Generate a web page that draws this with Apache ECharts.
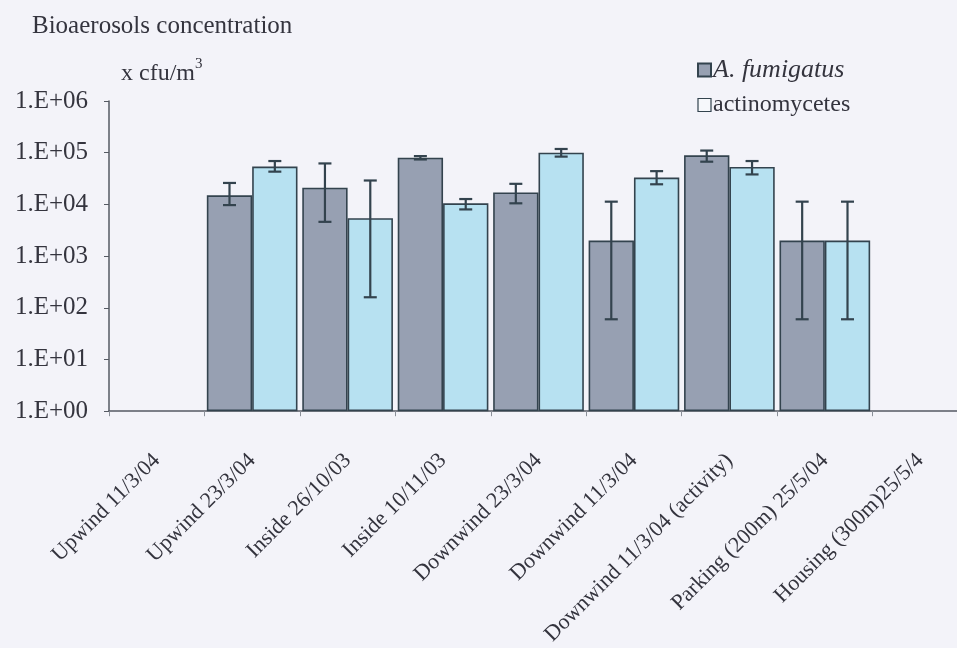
<!DOCTYPE html>
<html>
<head>
<meta charset="utf-8">
<script src="https://cdn.jsdelivr.net/npm/echarts@6/dist/echarts.min.js"></script>
<style>
  html, body { margin: 0; padding: 0; background: #f3f3f9; overflow: hidden; }
  /* the plot runs a little past the right edge of the window */
  #chart { width: 968px; height: 648px; }
</style>
</head>
<body>
<div id="chart"></div>
<script>
// Sampling sites
const categories = [
  'Upwind 11/3/04', 'Upwind 23/3/04', 'Inside 26/10/03', 'Inside 10/11/03',
  'Downwind 23/3/04', 'Downwind 11/3/04', 'Downwind 11/3/04 (activity)',
  'Parking (200m) 25/5/04', 'Housing (300m)25/5/4'
];

// Mean concentrations, cfu/m3 (null = not measured)
const fumigatus = [null, 15000, 21000, 80000, 17000, 2000, 89000, 2000, null];
const actinomycetes = [null, 54000, 5400, 10500, 100000, 33000, 53000, 2000, null];

// Error bar limits
const fumigatusLow  = [null, 9700, 4600, 74000, 10500, 60, 67000, 60, null];
const fumigatusHigh = [null, 26000, 62000, 86000, 25000, 11300, 110000, 11300, null];
const actinoLow     = [null, 43000, 160, 8000, 84000, 24500, 38000, 60, null];
const actinoHigh    = [null, 69000, 29000, 12700, 118000, 44000, 69000, 11300, null];

// Y axis decades
const yTicks = ['1.E+00', '1.E+01', '1.E+02', '1.E+03', '1.E+04', '1.E+05', '1.E+06'];

const FONT = '"Liberation Serif", "Times New Roman", serif';
const TEXT = '#34343e';
const EDGE = '#33434e';

function errorData(low, high) {
  const out = [];
  for (let i = 0; i < categories.length; i++) {
    if (low[i] != null && high[i] != null) out.push([i, low[i], high[i]]);
  }
  return out;
}

// Whisker renderer; shift = fraction of category width from its centre
function whiskers(shift) {
  return function (params, api) {
    const i = api.value(0);
    const lo = api.coord([i, api.value(1)]);
    const hi = api.coord([i, api.value(2)]);
    const band = api.size([1, 0])[0];
    const x = lo[0] + band * shift;
    const cap = 6.5;
    const style = { stroke: EDGE, lineWidth: 2.2 };
    return {
      type: 'group',
      children: [
        { type: 'line', shape: { x1: x, y1: lo[1], x2: x, y2: hi[1] }, style },
        { type: 'line', shape: { x1: x - cap, y1: lo[1], x2: x + cap, y2: lo[1] }, style },
        { type: 'line', shape: { x1: x - cap, y1: hi[1], x2: x + cap, y2: hi[1] }, style }
      ]
    };
  };
}

const chart = echarts.init(document.getElementById('chart'));
chart.setOption({
  backgroundColor: '#f3f3f9',
  animation: false,
  textStyle: { fontFamily: FONT, color: TEXT },
  graphic: [
    {
      type: 'text', left: 32, top: 14,
      style: { text: 'Bioaerosols concentration', font: '25px ' + FONT, fill: TEXT }
    },
    {
      type: 'text', left: 121, top: 57,
      style: {
        text: '{a|x cfu/m}{s|3}',
        rich: {
          a: { fontFamily: FONT, fontSize: 24, fill: TEXT, color: TEXT, verticalAlign: 'bottom' },
          s: { fontFamily: FONT, fontSize: 15, fill: TEXT, color: TEXT, verticalAlign: 'top', padding: [0, 0, 14, 0] }
        }
      }
    }
  ],
  legend: {
    orient: 'vertical',
    left: 692,
    top: 52,
    itemWidth: 13,
    itemHeight: 13,
    itemGap: 10,
    selectedMode: false,
    textStyle: {
      fontFamily: FONT, fontSize: 24, color: TEXT, padding: [0, 0, 0, -3],
      rich: { i: { fontFamily: FONT, fontSize: 26, fontStyle: 'italic', color: TEXT } }
    },
    formatter: name => name === 'A. fumigatus' ? '{i|' + name + '}' : name,
    data: [
      { name: 'A. fumigatus', icon: 'rect' },
      { name: 'actinomycetes', icon: 'rect', itemStyle: { color: '#f6f8fb', borderColor: EDGE, borderWidth: 1.2 } }
    ]
  },
  grid: { left: 109, top: 101, bottom: 235, right: 0, containLabel: false },
  xAxis: {
    type: 'category',
    data: categories,
    axisLine: { lineStyle: { color: '#555a63', width: 1.5 } },
    axisTick: { show: true, length: 5, lineStyle: { color: '#8a8f98' } },
    axisLabel: {
      rotate: 45, margin: 46, fontFamily: FONT, fontSize: 22, color: TEXT, interval: 0
    }
  },
  yAxis: {
    type: 'log',
    logBase: 10,
    min: 1,
    max: 1000000,
    axisLine: { show: true, lineStyle: { color: '#555a63', width: 1.5 } },
    axisTick: { show: true, length: 5, lineStyle: { color: '#555a63' } },
    splitLine: { show: false },
    axisLabel: {
      fontFamily: FONT, fontSize: 25, color: TEXT, margin: 21,
      formatter: v => yTicks[Math.round(Math.log10(v))]
    }
  },
  series: [
    {
      name: 'A. fumigatus',
      type: 'bar',
      data: fumigatus,
      barGap: '0%',
      barCategoryGap: '5%',
      itemStyle: { color: '#97a0b2', borderColor: EDGE, borderWidth: 1.6 }
    },
    {
      name: 'actinomycetes',
      type: 'bar',
      data: actinomycetes,
      itemStyle: { color: '#b7e1f1', borderColor: EDGE, borderWidth: 1.6 }
    },
    {
      type: 'custom',
      renderItem: whiskers(-0.2375),
      data: errorData(fumigatusLow, fumigatusHigh),
      encode: { x: 0, y: [1, 2] },
      z: 10
    },
    {
      type: 'custom',
      renderItem: whiskers(0.2375),
      data: errorData(actinoLow, actinoHigh),
      encode: { x: 0, y: [1, 2] },
      z: 10
    }
  ]
});
</script>
</body>
</html>
